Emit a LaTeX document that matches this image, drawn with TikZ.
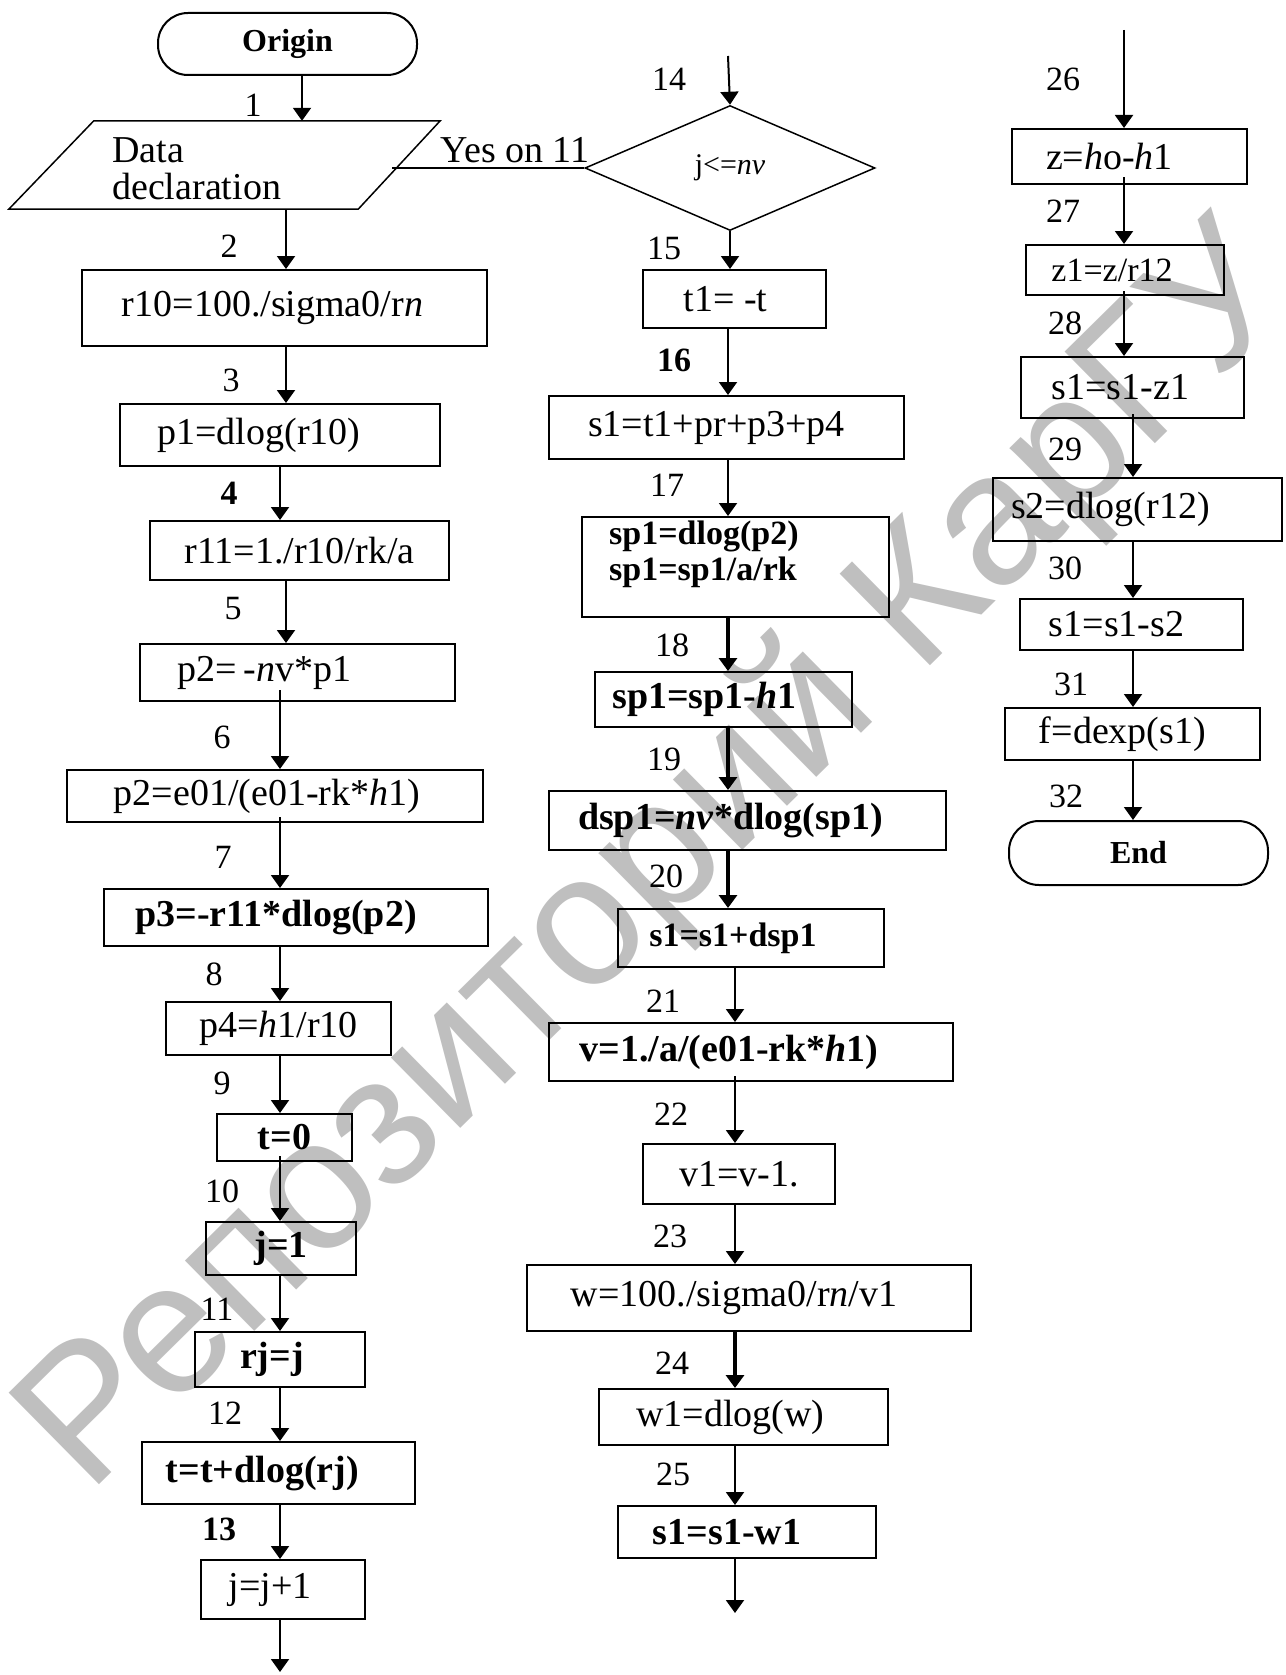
\documentclass[tikz,border=0pt]{standalone}
\usepackage{fontspec}
\setmainfont{Liberation Serif}
\newfontfamily\wmfont{Liberation Sans}
\usetikzlibrary{arrows.meta, positioning, shapes.geometric}

\newcommand{\boxfont}{\fontsize{38}{37}\selectfont}
\newcommand{\numfont}{\fontsize{34}{34}\selectfont}

\begin{document}
\begin{tikzpicture}[x=1pt, y=-1pt,
  box/.style={draw, line width=2pt, inner sep=0pt, font=\boxfont},
  term/.style={box, rounded corners=30pt, font=\fontsize{32}{32}\selectfont\bfseries},
  shl/.style={execute at end node={\hspace*{#1}}},
  num/.style={inner sep=0pt, font=\numfont},
  arr/.style={line width=2pt, -{Triangle[width=18pt,length=13pt]}},
  thickarr/.style={arr, line width=4pt}]

\useasboundingbox (0,0) rectangle (1285,1675);

% --- watermark ---
\node[rotate=44.6, text=black!25, font=\wmfont\fontsize{187}{187}\selectfont] (wm) at (660,862) {Репозиторий КарГУ};

% --- arrow columns ---
\coordinate (c1a) at (302,0);
\coordinate (c1b) at (286,0);
\coordinate (c1) at (280,0);
\coordinate (c2) at (728,0);
\coordinate (c2b) at (735,0);
\coordinate (c3) at (1124,0);
\coordinate (c3b) at (1133,0);

% --- Column 1 ---
\node[term, minimum width=259pt, minimum height=62pt] (origin) at (287.5,44) {Origin};
\node[minimum width=431pt, minimum height=88pt, inner sep=0pt] (data) at (224.5,165) {};
\draw[line width=1.5pt] ([xshift=85pt]data.north west) -- (data.north east) -- ([xshift=-82pt]data.south east) -- (data.south west) -- cycle;
\node[anchor=west, align=left, inner sep=0pt, font=\boxfont] (datatxt) at (112,169) {Data\\declaration};
\coordinate (dataR) at (392,172);
\node[box, shl=24pt, minimum width=405pt, minimum height=76pt] (r10) at (284.5,308) {r10=100./sigma0/r\textit{n}};
\node[box, shl=42pt, minimum width=320pt, minimum height=62pt] (p1) at (280,435) {p1=dlog(r10)};
\node[box, minimum width=299pt, minimum height=59pt] (r11) at (299.5,550.5) {r11=1./r10/rk/a};
\node[box, shl=66pt, minimum width=315pt, minimum height=57pt] (p2) at (297.5,672.5) {p2=\,-\textit{n}v*p1};
\node[box, shl=16pt, minimum width=416pt, minimum height=52pt] (p2e) at (275,796) {p2=e01/(e01-rk*\textit{h}1)};
\node[box, shl=40pt, minimum width=384pt, minimum height=57pt] (p3) at (296,917.5) {\bfseries p3=-r11*dlog(p2)};
\node[box, minimum width=225pt, minimum height=53pt] (p4) at (278.5,1028.5) {p4=\textit{h}1/r10};
\node[box, minimum width=135pt, minimum height=47pt] (t0) at (284.5,1137.5) {\bfseries t=0};
\node[box, minimum width=150pt, minimum height=53pt] (j1) at (281,1248.5) {\bfseries j=1};
\node[box, shl=16pt, minimum width=170pt, minimum height=55pt] (rj) at (280,1359.5) {\bfseries rj=j};
\node[box, shl=32pt, minimum width=273pt, minimum height=62pt] (tt) at (278.5,1473) {\bfseries t=t+dlog(rj)};
\node[box, shl=26pt, minimum width=164pt, minimum height=59pt] (jj) at (283,1589.5) {j=j+1};
\coordinate (out13) at (280,1672);

\draw[arr] (origin.south -| c1a) -- (data.north -| c1a);
\draw[arr] (data.south -| c1b) -- (r10.north -| c1b);
\draw[arr] (r10.south -| c1b) -- (p1.north -| c1b);
\draw[arr] (p1.south -| c1) -- (r11.north -| c1);
\draw[arr] (r11.south -| c1b) -- (p2.north -| c1b);
\draw[arr] ([yshift=12pt]p2.south -| c1) -- (p2e.north -| c1);
\draw[arr] ([yshift=6pt]p2e.south -| c1) -- (p3.north -| c1);
\draw[arr] (p3.south -| c1) -- (p4.north -| c1);
\draw[arr] (p4.south -| c1) -- (t0.north -| c1);
\draw[arr] ([yshift=6pt]t0.south -| c1) -- (j1.north -| c1);
\draw[arr] (j1.south -| c1) -- (rj.north -| c1);
\draw[arr] (rj.south -| c1) -- (tt.north -| c1);
\draw[arr] (tt.south -| c1) -- (jj.north -| c1);
\draw[arr] (jj.south -| c1) -- (out13);

\node[num] (n1) at (253,105) {1};
\node[num] (n2) at (229,246) {2};
\node[num] (n3) at (231,380) {3};
\node[num, font=\numfont\bfseries] (n4) at (229,493) {4};
\node[num] (n5) at (233,609) {5};
\node[num] (n6) at (222,737) {6};
\node[num] (n7) at (223,857) {7};
\node[num] (n8) at (214,974) {8};
\node[num] (n9) at (222,1083) {9};
\node[num] (n10) at (222,1191) {10};
\node[num] (n11) at (217,1309) {11};
\node[num] (n12) at (225,1413) {12};
\node[num, font=\numfont\bfseries] (n13) at (219,1529) {13};

% --- Column 2 ---
\coordinate (in14) at (728,56);
\node[draw, diamond, line width=1.5pt, inner sep=0pt, minimum width=290pt, minimum height=125pt, font=\fontsize{30}{30}\selectfont] (cond) at (730,168) {j<=\textit{nv}};
\node[box, shl=18pt, minimum width=183pt, minimum height=58pt] (t1) at (734.5,299) {t1= -t};
\node[box, shl=20pt, minimum width=355pt, minimum height=63pt] (s1a) at (726.5,427.5) {s1=t1+pr+p3+p4};
\node[box, minimum width=307pt, minimum height=100pt] (sp1) at (735.5,567) {};
\node[anchor=north west, align=left, inner sep=0pt, font=\fontsize{34}{36}\selectfont\bfseries] (sp1txt) at (609,521) {sp1=dlog(p2)\\sp1=sp1/a/rk};
\node[box, shl=38pt, minimum width=257pt, minimum height=55pt] (sp1h) at (723.5,699.5) {\bfseries sp1=sp1-\textit{h}1};
\node[box, shl=34pt, minimum width=397pt, minimum height=59pt] (dsp1) at (747.5,820.5) {\bfseries dsp1=\textit{nv}*dlog(sp1)};
\node[box, shl=36pt, minimum width=266pt, minimum height=58pt] (s1b) at (751,938) {\fontsize{34}{34}\selectfont\bfseries s1=s1+dsp1};
\node[box, shl=44pt, minimum width=404pt, minimum height=58pt] (v) at (751,1052) {\bfseries v=1./a/(e01-rk*\textit{h}1)};
\node[box, minimum width=192pt, minimum height=60pt] (v1) at (739,1174) {v1=v-1.};
\node[box, shl=30pt, minimum width=444pt, minimum height=66pt] (w) at (749,1298) {w=100./sigma0/r\textit{n}/v1};
\node[box, shl=26pt, minimum width=289pt, minimum height=56pt] (w1) at (743.5,1417) {w1=dlog(w)};
\node[box, shl=40pt, minimum width=258pt, minimum height=52pt] (s1c) at (747,1532) {\bfseries s1=s1-w1};
\coordinate (out25) at (735,1613);
\node[inner sep=0pt, font=\boxfont] (yes) at (515,150) {Yes on 11};

\draw[line width=1.5pt] (cond.west) -- (cond.west -| dataR);
\draw[arr] (in14) -- (cond.north);
\draw[arr] (cond.south) -- (cond.south |- t1.north);
\draw[arr] (t1.south -| c2) -- (s1a.north -| c2);
\draw[arr] (s1a.south -| c2) -- (sp1.north -| c2);
\draw[thickarr] (sp1.south -| c2) -- (sp1h.north -| c2);
\draw[thickarr] (sp1h.south -| c2) -- (dsp1.north -| c2);
\draw[thickarr] (dsp1.south -| c2) -- (s1b.north -| c2);
\draw[arr] (s1b.south -| c2b) -- (v.north -| c2b);
\draw[arr] ([yshift=6pt]v.south -| c2b) -- (v1.north -| c2b);
\draw[arr] (v1.south -| c2b) -- (w.north -| c2b);
\draw[thickarr] (w.south -| c2b) -- (w1.north -| c2b);
\draw[arr] (w1.south -| c2b) -- (s1c.north -| c2b);
\draw[arr] (s1c.south -| c2b) -- (out25);

\node[num] (n14) at (669,79) {14};
\node[num] (n15) at (664,248) {15};
\node[num, font=\numfont\bfseries] (n16) at (674,360) {16};
\node[num] (n17) at (667,485) {17};
\node[num] (n18) at (672,645) {18};
\node[num] (n19) at (664,759) {19};
\node[num] (n20) at (666,876) {20};
\node[num] (n21) at (663,1001) {21};
\node[num] (n22) at (671,1114) {22};
\node[num] (n23) at (670,1236) {23};
\node[num] (n24) at (672,1363) {24};
\node[num] (n25) at (673,1474) {25};

% --- Column 3 ---
\coordinate (in26) at (1124,30);
\node[box, shl=40pt, minimum width=235pt, minimum height=55pt] (z) at (1129.5,156.5) {z=\textit{h}o-\textit{h}1};
\node[box, shl=26pt, minimum width=198pt, minimum height=50pt] (z1) at (1125,270) {\fontsize{34}{34}\selectfont z1=z/r12};
\node[box, shl=24pt, minimum width=223pt, minimum height=61pt] (s1d) at (1132.5,387.5) {s1=s1-z1};
\node[box, shl=54pt, minimum width=289pt, minimum height=63pt] (s2) at (1137.5,509.5) {s2=dlog(r12)};
\node[box, shl=30pt, minimum width=223pt, minimum height=51pt] (s1e) at (1131.5,624.5) {s1=s1-s2};
\node[box, shl=20pt, minimum width=255pt, minimum height=52pt] (f) at (1132.5,734) {f=dexp(s1)};
\node[term, minimum width=259pt, minimum height=64pt] (end) at (1138.5,853) {End};

\draw[arr] (in26) -- (z.north -| c3);
\draw[arr] ([yshift=8pt]z.south -| c3) -- (z1.north -| c3);
\draw[arr] ([yshift=5pt]z1.south -| c3) -- (s1d.north -| c3);
\draw[arr] ([yshift=5pt]s1d.south -| c3b) -- (s2.north -| c3b);
\draw[arr] (s2.south -| c3b) -- (s1e.north -| c3b);
\draw[arr] (s1e.south -| c3b) -- (f.north -| c3b);
\draw[arr] (f.south -| c3b) -- (end.north -| c3b);

\node[num] (n26) at (1063,79) {26};
\node[num] (n27) at (1063,211) {27};
\node[num] (n28) at (1065,323) {28};
\node[num] (n29) at (1065,449) {29};
\node[num] (n30) at (1065,568) {30};
\node[num] (n31) at (1071,684) {31};
\node[num] (n32) at (1066,796) {32};

\end{tikzpicture}
\end{document}
